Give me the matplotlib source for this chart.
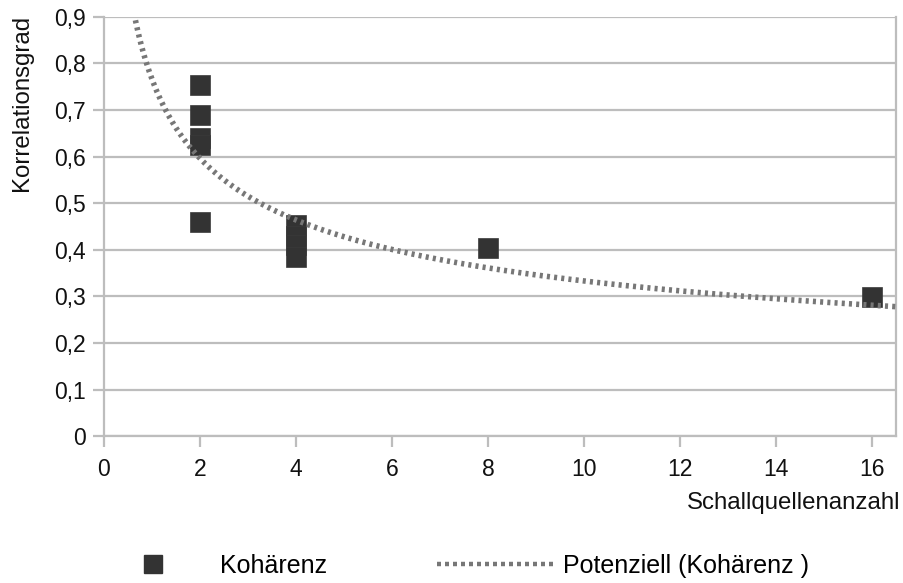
import numpy as np
import matplotlib.pyplot as plt
from matplotlib.lines import Line2D
from matplotlib.ticker import FuncFormatter

plt.rcParams['font.family'] = ['Liberation Sans', 'DejaVu Sans']

schallquellen = [2, 2, 2, 2, 2, 4, 4, 4, 4, 8, 16]
kohaerenz = [0.754, 0.689, 0.640, 0.625, 0.460, 0.453, 0.430, 0.410, 0.385, 0.404, 0.299]

x_ticks = [0, 2, 4, 6, 8, 10, 12, 14, 16]
y_ticks = [0, 0.1, 0.2, 0.3, 0.4, 0.5, 0.6, 0.7, 0.8, 0.9]

grid_col = '#bdbdbd'
mark_col = '#333333'
trend_col = '#777777'
txt_col = '#111111'

# Potenz-Trendlinie y = a * x^b (Regression im log-log Raum)
b, ln_a = np.polyfit(np.log(schallquellen), np.log(kohaerenz), 1)
xt = np.linspace(0.5, 16.5, 400)
yt = np.exp(ln_a) * xt ** b

fig = plt.figure(figsize=(9.04, 5.83), dpi=100)
ax = fig.add_axes([0.115, 0.252, 0.876, 0.719])

ax.set_xlim(0, 16.5)
ax.set_ylim(0, 0.9)
ax.set_xticks(x_ticks)
ax.set_yticks(y_ticks)
ax.yaxis.set_major_formatter(FuncFormatter(lambda v, p: '0' if v == 0 else f'{v:.1f}'.replace('.', ',')))

ax.grid(axis='y', color=grid_col, linewidth=1.6)
ax.set_axisbelow(True)
for s in ['left', 'bottom', 'right']:
    ax.spines[s].set_color(grid_col)
    ax.spines[s].set_linewidth(1.6)
ax.spines['top'].set_visible(False)
ax.tick_params(axis='both', color=grid_col, width=1.6, labelsize=16.5, labelcolor=txt_col)
ax.tick_params(axis='x', length=8, pad=8)
ax.tick_params(axis='y', length=8, pad=5)

ax.plot(schallquellen, kohaerenz, linestyle='none', marker='s', markersize=15,
        color=mark_col, markeredgecolor='#3a3a3a', markeredgewidth=0.5, zorder=3)
ax.plot(xt, yt, color=trend_col, linewidth=4.0, linestyle=(0, (0.55, 0.75)), zorder=4)

fig.text(0.996, 1 - 503 / 583, 'Schallquellenanzahl', ha='right', va='center', fontsize=17.3, color=txt_col)
fig.text(0.024, 0.975, 'Korrelationsgrad', rotation=90, ha='center', va='top', fontsize=17.3, color=txt_col)

h1 = Line2D([], [], linestyle='none', marker='s', markersize=12.5, color=mark_col)
h2 = Line2D([], [], color=trend_col, linewidth=3.2, linestyle=(0, (0.9, 0.9)))
leg_y = 1 - 566 / 583
fig.legend([h1], ['Kohärenz'], loc='center left', bbox_to_anchor=(129 / 904, leg_y),
           frameon=False, fontsize=18, handlelength=1.9, handletextpad=1.75, borderpad=0, borderaxespad=0)
fig.legend([h2], ['Potenziell (Kohärenz )'], loc='center left', bbox_to_anchor=(437 / 904, leg_y),
           frameon=False, fontsize=18, handlelength=4.65, handletextpad=0.4, borderpad=0, borderaxespad=0)

fig.savefig('out.png', dpi=100)
